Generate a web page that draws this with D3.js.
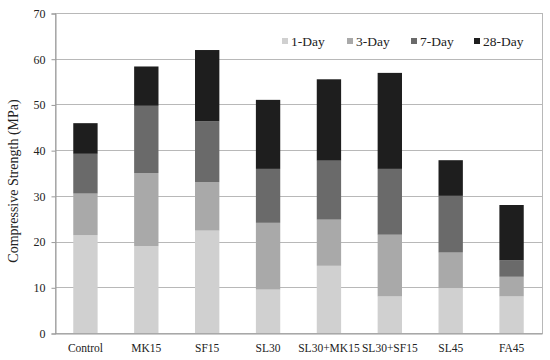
<!DOCTYPE html>
<html lang="en">
<head>
    <meta charset="UTF-8">
    <title>Compressive Strength</title>
    <script src="https://d3js.org/d3.v7.min.js"></script>
    <style>
        body { margin: 0; background: #fff; }
    </style>
</head>
<body>
<svg width="550" height="360"></svg>
<script>
    // strength at each age (MPa)
    const mixes = ["Control", "MK15", "SF15", "SL30", "SL30+MK15", "SL30+SF15", "SL45", "FA45"];
    const ages = ["1-Day", "3-Day", "7-Day", "28-Day"];
    const day1 = [21.4, 19.0, 22.4, 9.5, 14.7, 8.0, 9.8, 8.0];
    const day3 = [30.5, 35.0, 33.0, 24.1, 24.8, 21.5, 17.6, 12.3];
    const day7 = [39.2, 49.7, 46.3, 35.9, 37.7, 35.9, 30.0, 15.9];
    const day28 = [45.9, 58.3, 61.9, 51.0, 55.5, 56.9, 37.8, 28.0];
    const yTicks = [0, 10, 20, 30, 40, 50, 60, 70];

    const colors = ["#d0d0d0", "#a9a9a9", "#6a6a6a", "#1e1e1e"];
    const series = [day1, day3, day7, day28];
    const FONT = "'Liberation Serif', 'Times New Roman', Times, 'DejaVu Serif', serif";

    const svg = d3.select("svg");
    const m = {left: 55, right: 8, top: 13, bottom: 27};
    const W = 550, H = 360;

    const x = d3.scaleBand().domain(mixes)
        .range([m.left, W - m.right])
        .paddingInner(0.6).paddingOuter(0.3);
    const y = d3.scaleLinear().domain([0, 70]).range([H - m.bottom, m.top]);

    // grid
    svg.append("g").selectAll("line")
        .data(yTicks.slice(1, -1))
        .enter().append("line")
        .attr("x1", m.left).attr("x2", W - m.right)
        .attr("y1", d => Math.round(y(d)) + 0.5)
        .attr("y2", d => Math.round(y(d)) + 0.5)
        .attr("stroke", "#b8b8b8");

    // frame
    svg.append("rect")
        .attr("x", m.left + 0.5).attr("y", Math.round(y(70)) + 0.5)
        .attr("width", W - m.right - m.left)
        .attr("height", Math.round(y(0)) - Math.round(y(70)))
        .attr("fill", "none").attr("stroke", "#b8b8b8");

    // bars: each age segment from the previous age's strength up to its own
    ages.forEach(function (age, i) {
        svg.append("g").selectAll("rect")
            .data(mixes)
            .enter().append("rect")
            .attr("x", d => x(d))
            .attr("width", x.bandwidth())
            .attr("y", (d, j) => y(series[i][j]))
            .attr("height", (d, j) => (i === 0 ? y(0) : y(series[i - 1][j])) - y(series[i][j]))
            .attr("fill", colors[i]);
    });

    // axes
    const yAxis = svg.append("g")
        .attr("transform", "translate(" + (m.left + 0.5) + ",0.5)")
        .call(d3.axisLeft(y).tickValues(yTicks).tickSize(4).tickPadding(6));
    yAxis.select(".domain").attr("stroke", "#999");
    yAxis.selectAll(".tick line").attr("stroke", "#999");
    yAxis.selectAll("text").attr("font-size", 12);

    const xAxis = svg.append("g")
        .attr("transform", "translate(0," + (Math.round(y(0)) + 0.5) + ")")
        .call(d3.axisBottom(x).tickSize(0).tickPadding(10));
    xAxis.select(".domain").attr("stroke", "#999");
    xAxis.selectAll("text").attr("font-size", 11.5);

    svg.append("text")
        .attr("transform", "translate(18,181) rotate(-90)")
        .attr("text-anchor", "middle")
        .attr("font-size", 14)
        .text("Compressive Strength (MPa)");

    // legend
    const legX = [282, 347, 411, 474];
    const legend = svg.append("g").selectAll("g")
        .data(ages)
        .enter().append("g")
        .attr("transform", (d, i) => "translate(" + legX[i] + ",41)");
    legend.append("rect")
        .attr("x", 0).attr("y", -3).attr("width", 6).attr("height", 6)
        .attr("fill", (d, i) => colors[i]);
    legend.append("text")
        .attr("x", 9).attr("y", 4.5)
        .attr("font-size", 13.5)
        .text(d => d);

    svg.selectAll("text").style("font-family", FONT).style("fill", "#222");
</script>
</body>
</html>
